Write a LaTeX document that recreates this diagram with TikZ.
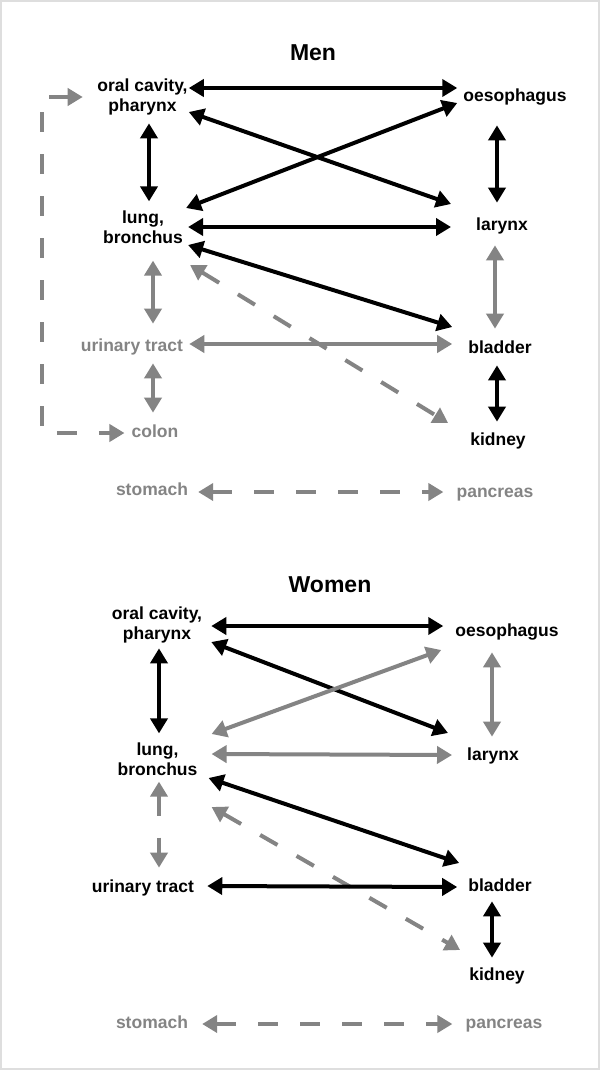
\documentclass[tikz,border=0pt]{standalone}
\usepackage{fontspec}
\setmainfont{Liberation Sans}
\usetikzlibrary{arrows.meta}
\definecolor{greyline}{RGB}{132,132,132}
\definecolor{framegrey}{RGB}{222,222,222}

\begin{document}
\begin{tikzpicture}[x=1pt,y=-1pt,
    lbl/.style={font=\bfseries\fontsize{17.5}{20}\selectfont, inner sep=0pt},
    organ/.style={lbl, text height=12.6pt, text depth=3.7pt},
    organtwo/.style={lbl, align=center},
    heading/.style={font=\bfseries\fontsize{23}{26}\selectfont, inner sep=0pt},
    link/.style={<->, >={Triangle[length=15pt,width=17pt]}, line width=4pt},
    maybe/.style={dash pattern=on 20pt off 22pt}]
    \useasboundingbox (0,0) rectangle (600,1070);
    \fill[white] (0,0) rectangle (600,1070);
    \draw[framegrey, line width=1.5pt] (1,1) rectangle (599,1069);

    % men
    \node[heading] (titleM) at (313,53) {Men};
    \node[organtwo] (oralM) at (142.5,97) {oral cavity,\\pharynx};
    \node[organ] (oesM) at (515,97) {oesophagus};
    \node[organtwo] (lungM) at (143,227) {lung,\\bronchus};
    \node[organ] (larynxM) at (502,226) {larynx};
    \node[organ, text=greyline] (urinM) at (132,347) {urinary tract};
    \node[organ] (bladM) at (500,349) {bladder};
    \node[organ, text=greyline] (colonM) at (155,433) {colon};
    \node[organ] (kidM) at (498,441) {kidney};
    \node[organ, text=greyline] (stomM) at (152,491) {stomach};
    \node[organ, text=greyline] (pancM) at (495,493) {pancreas};

    \draw[link] ([xshift=1pt,yshift=9pt]oralM.east) -- ([xshift=-6pt,yshift=9pt]oesM.west);
    \draw[link] ([xshift=1pt,yshift=-15pt]oralM.east) -- ([xshift=-25pt,yshift=22pt]larynxM.west);
    \draw[link] ([xshift=3pt,yshift=19pt]lungM.east) -- ([xshift=-6pt,yshift=-6pt]oesM.west);
    \draw[link] ([xshift=5pt]lungM.east) -- ([xshift=-25pt,yshift=-1pt]larynxM.west);
    \draw[link] ([xshift=5pt,yshift=-18pt]lungM.east) -- ([xshift=-16pt,yshift=22pt]bladM.west);
    \draw[link, greyline, maybe] ([xshift=7pt,yshift=-38pt]lungM.east) -- ([xshift=-22pt,yshift=18pt]kidM.west);
    \draw[link] ([xshift=6.5pt,yshift=-8pt]oralM.south) -- ([xshift=6pt,yshift=9pt]lungM.north);
    \draw[link] ([xshift=-18pt,yshift=-20pt]oesM.south) -- ([xshift=-5pt,yshift=15pt]larynxM.north);
    \draw[link, greyline] ([xshift=-7pt,yshift=-11pt]larynxM.south) -- ([xshift=-5pt,yshift=12pt]bladM.north);
    \draw[link, greyline] ([xshift=6pt,yshift=3pt]urinM.east) -- ([xshift=-16pt,yshift=5pt]bladM.west);
    \draw[link, greyline] ([xshift=10pt,yshift=-17pt]lungM.south) -- ([xshift=21pt,yshift=15pt]urinM.north);
    \draw[link, greyline] ([xshift=21pt,yshift=-8pt]urinM.south) -- ([xshift=-2pt,yshift=12pt]colonM.north);
    \draw[link] ([xshift=-3pt,yshift=-8pt]bladM.south) -- ([xshift=-1pt,yshift=11pt]kidM.north);
    \draw[link, greyline, maybe] ([xshift=-14.5pt]oralM.west) -- ++(-41,0) |- ([xshift=-7pt]colonM.west);
    \draw[link, greyline, maybe] ([xshift=10pt,yshift=-1pt]stomM.east) -- ([xshift=-13pt,yshift=1pt]pancM.west);

    % women
    \node[heading] (titleW) at (330,585) {Women};
    \node[organtwo] (oralW) at (157,625) {oral cavity,\\pharynx};
    \node[organ] (oesW) at (507,632) {oesophagus};
    \node[organtwo] (lungW) at (157.5,759) {lung,\\bronchus};
    \node[organ] (larynxW) at (493,756) {larynx};
    \node[organ] (urinW) at (143,888) {urinary tract};
    \node[organ] (bladW) at (500,887) {bladder};
    \node[organ] (kidW) at (497,976) {kidney};
    \node[organ, text=greyline] (stomW) at (152,1024) {stomach};
    \node[organ, text=greyline] (pancW) at (504,1024) {pancreas};

    \draw[link] ([xshift=9pt,yshift=-1pt]oralW.east) -- ([xshift=-12pt,yshift=6pt]oesW.west);
    \draw[link] ([xshift=9pt,yshift=-17pt]oralW.east) -- ([xshift=-19pt,yshift=23pt]larynxW.west);
    \draw[link, greyline] ([xshift=14pt,yshift=25pt]lungW.east) -- ([xshift=-14pt,yshift=-18pt]oesW.west);
    \draw[link, greyline] ([xshift=14pt,yshift=5pt]lungW.east) -- ([xshift=-15pt,yshift=1pt]larynxW.west);
    \draw[link] ([xshift=11pt,yshift=-19pt]lungW.east) -- ([xshift=-9pt,yshift=24pt]bladW.west);
    \draw[link, greyline, maybe] ([xshift=14pt,yshift=-48pt]lungW.east) -- ([xshift=-9pt,yshift=26pt]kidW.west);
    \draw[link] ([xshift=2pt,yshift=-5pt]oralW.south) -- ([xshift=1.5pt,yshift=9pt]lungW.north);
    \draw[link, greyline] ([xshift=-15pt,yshift=-12pt]oesW.south) -- ([xshift=-1pt,yshift=11pt]larynxW.north);
    \draw[link, greyline, maybe] ([xshift=1.5pt,yshift=-6pt]lungW.south) -- ([xshift=16pt,yshift=12pt]urinW.north);
    \draw[link] ([xshift=13pt,yshift=2pt]urinW.east) -- ([xshift=-11pt]bladW.west);
    \draw[link] ([xshift=-8pt,yshift=-6pt]bladW.south) -- ([xshift=-5pt,yshift=10pt]kidW.north);
    \draw[link, greyline, maybe] ([xshift=14pt]stomW.east) -- ([xshift=-13pt]pancW.west);
\end{tikzpicture}
\end{document}
